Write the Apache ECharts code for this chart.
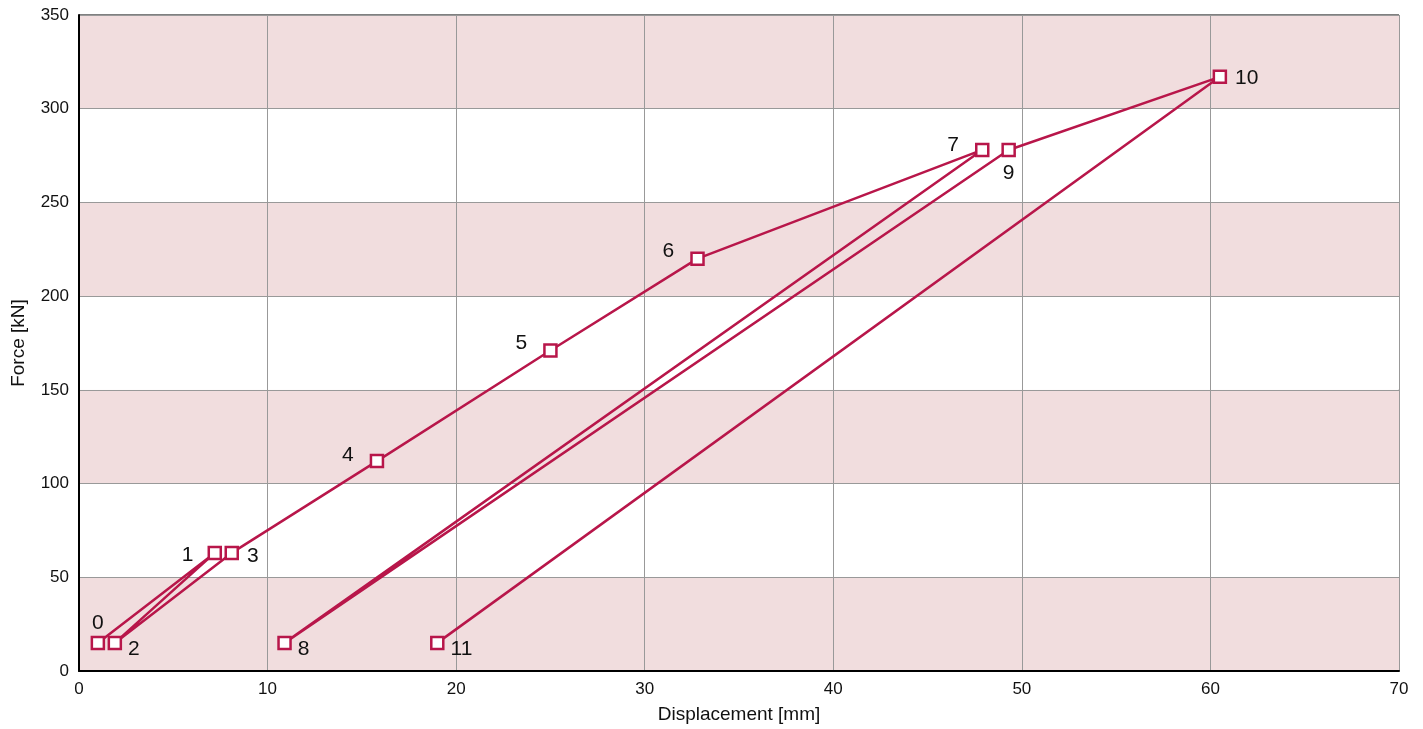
<!DOCTYPE html>
<html>
<head>
<meta charset="utf-8">
<script src="https://cdn.jsdelivr.net/npm/echarts@6/dist/echarts.min.js"></script>
<style>html,body{margin:0;padding:0;background:#fff}#c{width:1423px;height:729px}</style>
</head>
<body>
<div id="c"></div>
<script>
const pointNames = ['0','1','2','3','4','5','6','7','8','9','10','11'];
const displacement = [1.0, 7.2, 1.9, 8.1, 15.8, 25.0, 32.8, 47.9, 10.9, 49.3, 60.5, 19.0];
const force = [15, 63, 15, 63, 112, 171, 220, 278, 15, 278, 317, 15];
const xTicks = [0,10,20,30,40,50,60,70];
const yTicks = [0,50,100,150,200,250,300,350];

const labelPlace = [
  {position:'top', offset:[0,2], distance:4},
  {position:'left', offset:[0,2], distance:14},
  {position:'right', offset:[0,6], distance:6},
  {position:'right', offset:[0,3], distance:8},
  {position:'left', offset:[0,-6], distance:16},
  {position:'left', offset:[0,-7], distance:16},
  {position:'left', offset:[0,-7], distance:16},
  {position:'left', offset:[0,-5], distance:16},
  {position:'right', offset:[0,6], distance:6},
  {position:'bottom', offset:[0,2], distance:4},
  {position:'right', offset:[0,1], distance:8},
  {position:'right', offset:[0,6], distance:6}
];

const FONT = 'Liberation Sans, Arial, Helvetica, sans-serif';
const data = displacement.map((x,i)=>({
  value:[x, force[i]],
  name: pointNames[i],
  label: Object.assign({show:true, formatter: pointNames[i], fontSize:21, color:'#111', fontFamily:FONT}, labelPlace[i])
}));

const chart = echarts.init(document.getElementById('c'), null, {renderer:'canvas'});
chart.setOption({
  animation:false,
  grid:{left:79, right:24, top:15, bottom:58, show:true, borderColor:'#000', borderWidth:1, backgroundColor:'transparent', containLabel:false, outerBoundsMode:'none'},
  xAxis:{
    type:'value', min:0, max:70, interval:10,
    name:'Displacement [mm]', nameLocation:'middle', nameGap:34,
    nameTextStyle:{fontSize:19, color:'#111', fontFamily:FONT},
    axisLine:{show:true, lineStyle:{color:'#000', width:2}},
    axisTick:{show:false},
    axisLabel:{fontSize:17, color:'#111', margin:10, fontFamily:FONT,
      formatter:v=> xTicks.includes(v)? String(v):''},
    splitLine:{show:true, lineStyle:{color:'#999', width:1}}
  },
  yAxis:{
    type:'value', min:0, max:350, interval:50,
    name:'Force [kN]', nameLocation:'middle', nameGap:51, nameRotate:90,
    nameTextStyle:{fontSize:19, color:'#111', fontFamily:FONT},
    axisLine:{show:true, lineStyle:{color:'#000', width:2}},
    axisTick:{show:false},
    axisLabel:{fontSize:17, color:'#111', margin:10, fontFamily:FONT,
      formatter:v=> yTicks.includes(v)? String(v):''},
    splitLine:{show:true, lineStyle:{color:'#999', width:1}},
    splitArea:{show:true, areaStyle:{color:['#F1DDDE','#FFFFFF']}}
  },
  series:[{
    type:'line',
    data:data,
    symbol:'rect', symbolSize:12,
    showAllSymbol:true,
    lineStyle:{color:'#B8164A', width:2.5},
    itemStyle:{color:'#FFFFFF', borderColor:'#B8164A', borderWidth:2.5},
    z:5
  }]
});
</script>
</body>
</html>
